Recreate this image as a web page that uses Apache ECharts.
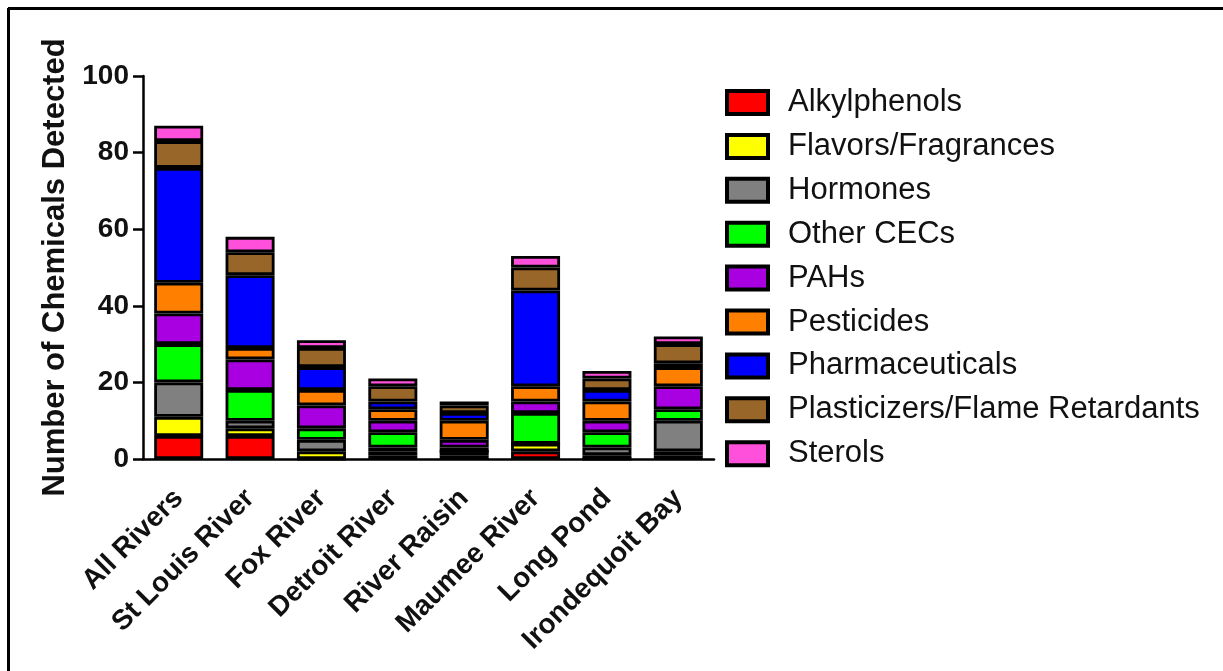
<!DOCTYPE html>
<html>
<head>
<meta charset="utf-8">
<script src="https://cdn.jsdelivr.net/npm/echarts@6/dist/echarts.min.js"></script>
<style>html,body{margin:0;padding:0;background:#fff;}#c{width:1223px;height:671px;}</style>
</head>
<body>
<div id="c"></div>
<script>
const categories = ['All Rivers','St Louis River','Fox River','Detroit River','River Raisin','Maumee River','Long Pond','Irondequoit Bay'];
const alkylphenols    = [6, 6, 0, 1, 1, 2, 0, 1];
const flavors         = [5, 2, 2, 1, 1, 2, 1, 1];
const hormones        = [9, 2, 3, 1, 0, 0, 2, 8];
const otherCECs       = [10, 8, 3, 4, 1, 8, 4, 3];
const pahs            = [8, 8, 6, 3, 2, 3, 3, 6];
const pesticides      = [8, 3, 4, 3, 5, 4, 5, 5];
const pharmaceuticals = [30, 19, 6, 2, 2, 25, 3, 1];
const plasticizers    = [7, 6, 5, 4, 2, 6, 3, 5];
const sterols         = [4, 4, 2, 2, 1, 3, 2, 2];
const yTicks = [0, 20, 40, 60, 80, 100];

const seriesDefs = [
  ['Alkylphenols', alkylphenols, '#FF0000'],
  ['Flavors/Fragrances', flavors, '#FFFF00'],
  ['Hormones', hormones, '#808080'],
  ['Other CECs', otherCECs, '#00FF00'],
  ['PAHs', pahs, '#A800E0'],
  ['Pesticides', pesticides, '#FF8000'],
  ['Pharmaceuticals', pharmaceuticals, '#0000FF'],
  ['Plasticizers/Flame Retardants', plasticizers, '#996629'],
  ['Sterols', sterols, '#FF50DC']
];

const FONT = '"Liberation Sans", Arial, sans-serif';
const chart = echarts.init(document.getElementById('c'), null, {renderer: 'canvas'});
chart.setOption({
  animation: false,
  backgroundColor: '#fff',
  grid: {left: 143, top: 76, width: 571, height: 383, containLabel: false},
  legend: {
    orient: 'vertical',
    left: 725,
    top: 87,
    padding: 0,
    itemWidth: 41,
    itemHeight: 23,
    itemGap: 12.9,
    icon: 'rect',
    itemStyle: {borderColor: '#000', borderWidth: 4},
    textStyle: {fontFamily: FONT, fontSize: 31, color: '#111', padding: [0, 0, 0, 15]},
    data: seriesDefs.map(s => s[0])
  },
  xAxis: {
    type: 'category',
    data: categories,
    axisLine: {lineStyle: {color: '#000', width: 2.5}},
    axisTick: {alignWithLabel: true, length: 10, lineStyle: {color: '#000', width: 2.5}},
    axisLabel: {rotate: 45, margin: 35, fontFamily: FONT, fontWeight: 'bold', fontSize: 28, color: '#111', interval: 0}
  },
  yAxis: {
    type: 'value',
    min: 0, max: 100, interval: 20,
    name: 'Number of Chemicals Detected',
    nameLocation: 'middle',
    nameGap: 72,
    nameTextStyle: {fontFamily: FONT, fontWeight: 'bold', fontSize: 31, color: '#111'},
    axisLine: {show: true, lineStyle: {color: '#000', width: 2.5}},
    axisTick: {show: true, length: 10, lineStyle: {color: '#000', width: 2.5}},
    splitLine: {show: false},
    axisLabel: {margin: 14, fontFamily: FONT, fontWeight: 'bold', fontSize: 28, color: '#111',
      formatter: v => yTicks.includes(v) ? String(v) : ''}
  },
  series: seriesDefs.map(([name, data, color]) => ({
    name, type: 'bar', stack: 'total', data,
    barWidth: 49,
    itemStyle: {color, borderColor: '#000', borderWidth: 2.8}
  })),
  graphic: [
    {type: 'line', shape: {x1: 8, y1: 8.5, x2: 1223, y2: 8.5}, style: {stroke: '#000', lineWidth: 3}},
    {type: 'line', shape: {x1: 8.5, y1: 8, x2: 8.5, y2: 671}, style: {stroke: '#000', lineWidth: 3}}
  ]
});
</script>
</body>
</html>
